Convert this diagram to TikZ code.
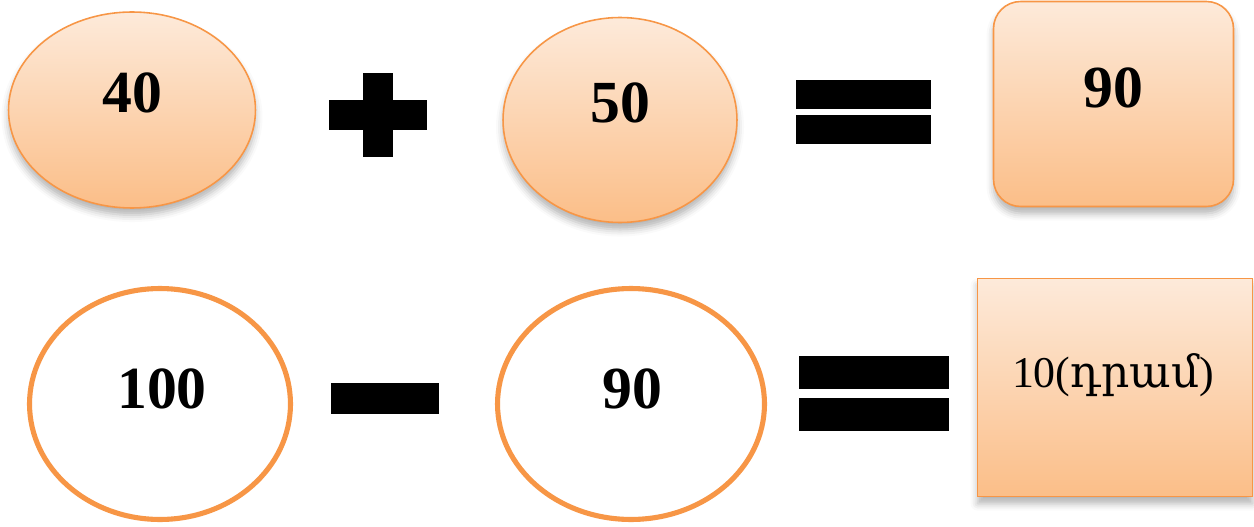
\documentclass[tikz,border=0pt]{standalone}
\usepackage{fontspec}
\setmainfont{Liberation Serif}
\newfontfamily\armfont[Script=Armenian]{DejaVu Serif}
\usetikzlibrary{shapes.geometric,shadows.blur}

\definecolor{accent}{RGB}{247,150,70}
\definecolor{peachtop}{RGB}{253,234,218}
\definecolor{peachbot}{RGB}{251,190,136}

\tikzset{
  soft/.style={blur shadow={shadow xshift=0pt, shadow yshift=-4pt,
      shadow blur radius=4pt, shadow opacity=30}},
  peach/.style={draw=accent, line width=0.9pt, top color=peachtop,
      bottom color=peachbot, inner sep=0pt},
  peachoval/.style={peach, soft, ellipse},
  peachbox/.style={peach, soft, rectangle},
  ring/.style={ellipse, draw=accent, line width=2.9pt, fill=white, inner sep=0pt},
  bar/.style={rectangle, fill=black, inner sep=0pt},
  num/.style={inner sep=0pt, font=\fontsize{34}{40}\selectfont\bfseries},
  small/.style={inner sep=0pt, font=\fontsize{25}{30}\selectfont},
}

\begin{document}
\begin{tikzpicture}[x=0.02cm, y=-0.02cm]
  \useasboundingbox (0,0) rectangle (1254,527);

  % first row: 40 + 50 = 90
  \node[peachoval, minimum width=4.94cm, minimum height=3.92cm] (a) at (132,110) {};
  \node[num] (ta) at (132,93) {40};

  \node[bar, minimum width=0.60cm, minimum height=1.68cm] (plusv) at (378,115) {};
  \node[bar, minimum width=1.96cm, minimum height=0.60cm] (plush) at (378,115) {};

  \node[peachoval, minimum width=4.68cm, minimum height=4.10cm] (b) at (620,120) {};
  \node[num] (tb) at (620,103) {50};

  \node[bar, minimum width=2.70cm, minimum height=0.58cm] (eqa1) at (863.5,94.5) {};
  \node[bar, minimum width=2.70cm, minimum height=0.58cm] (eqa2) at (863.5,129.5) {};

  \node[peachbox, rounded corners=0.54cm, minimum width=4.80cm, minimum height=4.10cm] (c) at (1113.5,104) {};
  \node[num] (tc) at (1113,88) {90};

  % second row: 100 - 90 = 10
  \node[ring, minimum width=5.22cm, minimum height=4.62cm] (d) at (160,404) {};
  \node[num] (td) at (162,389) {100};

  \node[bar, minimum width=2.16cm, minimum height=0.62cm] (minus) at (385,398.5) {};

  \node[ring, minimum width=5.34cm, minimum height=4.62cm] (e) at (631,404) {};
  \node[num] (te) at (632,389) {90};

  \node[bar, minimum width=3.00cm, minimum height=0.66cm] (eqb1) at (874,372.5) {};
  \node[bar, minimum width=3.00cm, minimum height=0.66cm] (eqb2) at (874,414.5) {};

  \node[peachbox, minimum width=5.50cm, minimum height=4.36cm] (f) at (1115,387.5) {};
  \node[small] (tf) at (1113,375) {10({\armfont դրամ})};
\end{tikzpicture}
\end{document}
